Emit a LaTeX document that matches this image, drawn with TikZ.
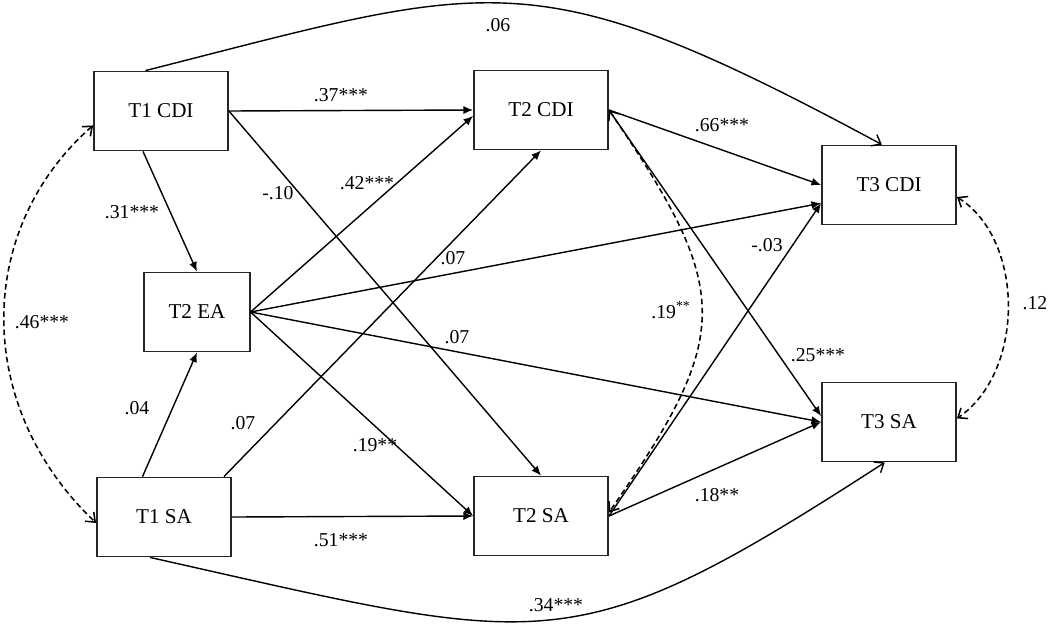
\documentclass[tikz,border=0pt]{standalone}
\usepackage{fontspec}
\setmainfont{Liberation Serif}
\usetikzlibrary{arrows.meta}
\tikzset{
  var/.style={draw=black!85, line width=1.3pt, fill=white, inner sep=0pt,
    minimum width=3.35cm, minimum height=1.975cm, font=\fontsize{15}{18}\selectfont},
  effect/.style={-{Latex[length=2.4mm,width=2mm]}, line width=1pt},
  longpath/.style={-{Straight Barb[length=2mm,width=3.2mm]}, line width=1pt},
  corr/.style={{Straight Barb[length=2mm,width=3.2mm]}-{Straight Barb[length=2mm,width=3.2mm]},
    dash pattern=on 4pt off 2.5pt, line width=1.1pt},
  coef/.style={font=\fontsize{14}{16}\selectfont, inner sep=0pt}
}

\begin{document}
\begin{tikzpicture}[x=0.025cm, y=-0.025cm]
  \useasboundingbox (0,0) rectangle (1050,626);
  % variables
  \node[var] (t1cdi) at (161,111) {T1 CDI};
  \node[var, minimum width=2.63cm] (t2ea) at (197,312) {T2 EA};
  \node[var] (t1sa)  at (164,517) {T1 SA};
  \node[var] (t2cdi) at (541,110) {T2 CDI};
  \node[var] (t2sa)  at (541,516) {T2 SA};
  \node[var] (t3cdi) at (889,185) {T3 CDI};
  \node[var] (t3sa)  at (889,422) {T3 SA};
  % paths
  \draw[effect] (t1cdi.east) -- (t2cdi.west);
  \draw[effect] (t1cdi.east) -- (t2sa.north);
  \draw[effect] (t1cdi.-114) -- (t2ea.north);
  \draw[effect] (t1sa.118) -- (t2ea.south);
  \draw[effect] (t1sa.34) -- (t2cdi.south);
  \draw[effect] (t1sa.east) -- (t2sa.west);
  \draw[effect] (t2ea.east) -- (t2cdi.185);
  \draw[effect] (t2ea.east) -- (t3cdi.195);
  \draw[effect] (t2ea.east) -- (t3sa.west);
  \draw[effect] (t2ea.east) -- (t2sa.west);
  \draw[effect] (t2cdi.east) -- (t3cdi.west);
  \draw[effect] (t2cdi.east) -- (t3sa.175);
  \draw[effect] (t2sa.east) -- (t3cdi.195);
  \draw[effect] (t2sa.east) -- (t3sa.west);
  \draw[longpath] (t1cdi.111) .. controls (495,-18) and (532,-44) .. (t3cdi.100);
  \draw[longpath] (t1sa.-109) .. controls (550,647) and (570,666) .. (t3sa.-96);
  % correlations
  \draw[corr] (t1cdi.192) .. controls (-26,230) and (-26,407) .. (t1sa.185);
  \draw[corr] (t2cdi.east) .. controls (733,292) and (733,334) .. (t2sa.3);
  \draw[corr] (t3cdi.-10) .. controls (1025,240) and (1025,372) .. (t3sa.3);
  % coefficients
  \node[coef] (c37) at (341,95) {.37***};
  \node[coef] (c10) at (278,193) {-.10};
  \node[coef] (c31) at (132,212) {.31***};
  \node[coef] (c06) at (498,25) {.06};
  \node[coef] (c42) at (367,183) {.42***};
  \node[coef] (c07a) at (453,258) {.07};
  \node[coef] (c07b) at (457,337) {.07};
  \node[coef] (c19) at (375,445) {.19**};
  \node[coef] (c04) at (137,408) {.04};
  \node[coef] (c07c) at (243,423) {.07};
  \node[coef] (c51) at (341,540) {.51***};
  \node[coef] (c34) at (556,605) {.34***};
  \node[coef] (c66) at (722,125) {.66***};
  \node[coef] (r19) at (671,310) {.19\textsuperscript{**}};
  \node[coef] (c03) at (767,245) {-.03};
  \node[coef] (c25) at (818,355) {.25***};
  \node[coef] (c18) at (717,495) {.18**};
  \node[coef] (r12) at (1035,303) {.12};
  \node[coef] (r46) at (42,322) {.46***};
\end{tikzpicture}
\end{document}
